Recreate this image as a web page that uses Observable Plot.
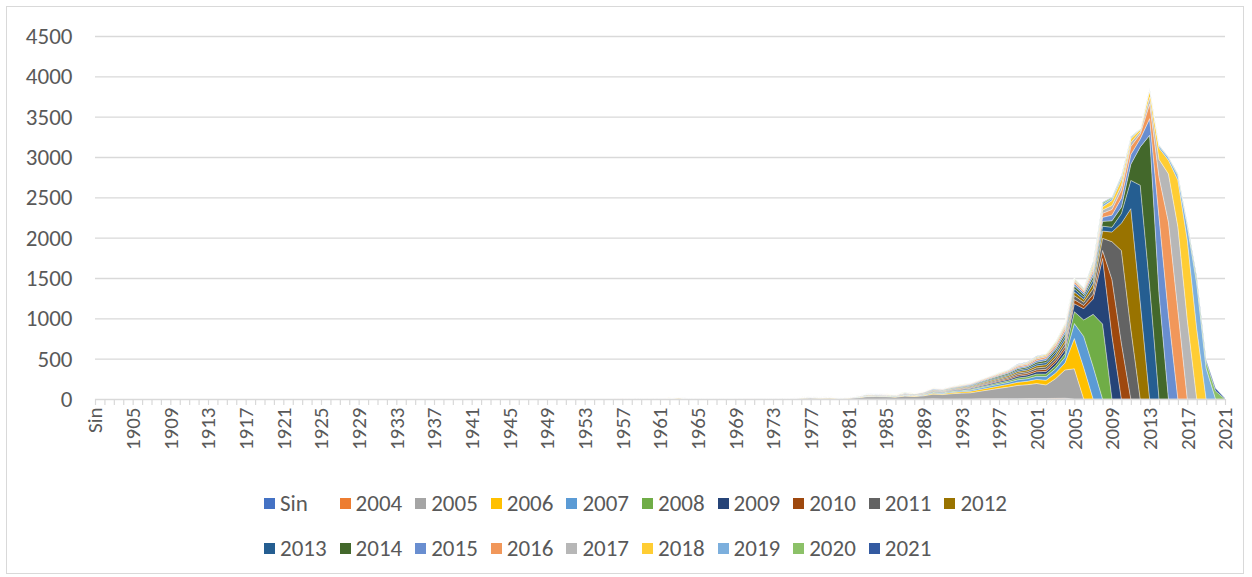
<!DOCTYPE html>
<html>
<head>
<meta charset="utf-8">
<script src="https://cdn.jsdelivr.net/npm/d3@7"></script>
<script src="https://cdn.jsdelivr.net/npm/@observablehq/plot@0.6"></script>
<style>
  html, body { margin: 0; padding: 0; background: #fff; }
  #wrap { position: relative; width: 1252px; height: 577px; overflow: hidden; font-family: Carlito, Lato, "Open Sans", sans-serif; }
  #frame { position: absolute; left: 6px; top: 6px; width: 1238px; height: 568px; border: 1px solid #d9d9d9; box-sizing: border-box; pointer-events: none; }
  #chart { position: absolute; left: 0; top: 0; }
  .leg { position: absolute; display: flex; align-items: center; font-size: 23px; color: #595959; white-space: nowrap; line-height: 1; }
  .leg span.sw { display: inline-block; width: 11px; height: 11px; margin-right: 5px; }
</style>
</head>
<body>
<div id="wrap">
  <div id="chart"></div>
  <div id="legend"></div>
  <div id="frame"></div>
</div>
<script>
// ---------- data ----------
const firstDataYear = 1956; // all categories before this year are 0
const categories = ["Sin", ...d3.range(1902, 2022).map(String)];
const tickLabels = ["Sin","1905","1909","1913","1917","1921","1925","1929","1933","1937","1941","1945","1949","1953","1957","1961","1965","1969","1973","1977","1981","1985","1989","1993","1997","2001","2005","2009","2013","2017","2021"];
const yTicks = [0, 500, 1000, 1500, 2000, 2500, 3000, 3500, 4000, 4500];

const seriesNames = ["Sin","2004","2005","2006","2007","2008","2009","2010","2011","2012","2013","2014","2015","2016","2017","2018","2019","2020","2021"];
const seriesColors = ["#4472C4","#ED7D31","#A5A5A5","#FFC000","#5B9BD5","#70AD47","#264478","#9E480E","#636363","#997300","#255E91","#43682B","#698ED0","#F1975A","#B7B7B7","#FFCD33","#7CAFDD","#8CC168","#335AA1"];

// values per year 1956..2021
const sSin = [0,0,0,0,0,0,0,0,0,0, 0,0,0,0,0,0,0,0,0,0, 0,0,0,0,0,0,0,0,0,0, 0,0,0,0,1,0,0,0,0,1, 1,2,2,2,2,3,3,4,5,0, 0,0,0,0,0,0,0,0,0,0, 0,0,0,0,0,0];
const s2004 = [0,0,0,0,0,0,2,3,0,0, 0,0,0,0,0,0,0,0,0,0, 0,0,0,0,0,0,0,0,0,1, 0,0,0,0,1,0,0,1,0,1, 2,2,2,2,3,3,3,4,5,0, 0,0,0,0,0,0,0,0,0,0, 0,0,0,0,0,0];
const s2005 = [0,1,0,1,1,2,4,7,3,2, 3,2,2,3,3,3,3,4,4,5, 9,11,9,10,7,9,17,28,29,27, 23,36,31,40,58,55,66,72,78,95, 111,128,145,165,173,186,169,244,350,375, 0,0,0,0,0,0,0,0,0,0, 0,0,0,0,0,0];
const s2006 = [0,1,0,0,1,1,3,4,1,1, 1,0,1,1,1,1,1,1,2,2, 3,4,3,4,3,3,3,5,6,6, 5,7,6,8,12,11,14,16,19,22, 26,29,33,39,42,51,58,69,86,376, 390,0,0,0,0,0,0,0,0,0, 0,0,0,0,0,0];
const s2007 = [0,0,0,1,0,1,1,2,1,0, 1,0,1,0,1,0,1,1,1,1, 2,3,2,2,2,2,3,4,4,4, 4,6,5,6,9,9,11,12,14,17, 20,23,25,31,32,39,45,53,67,186, 385,400,0,0,0,0,0,0,0,0, 0,0,0,0,0,0];
const s2008 = [0,0,0,0,0,0,1,1,1,0, 0,0,0,1,0,1,0,1,0,1, 2,2,2,2,1,2,2,3,3,3, 3,4,3,4,7,6,8,9,10,12, 14,16,18,22,23,28,32,38,48,145, 205,650,930,0,0,0,0,0,0,0, 0,0,0,0,0,0];
const s2009 = [0,0,0,0,1,0,0,1,0,1, 0,1,0,0,1,0,1,0,1,1, 1,2,1,2,1,1,2,3,3,3, 3,4,3,5,7,6,8,9,11,12, 14,16,18,22,24,28,32,38,48,100, 140,190,812,780,0,0,0,0,0,0, 0,0,0,0,0,0];
const s2010 = [0,0,0,0,0,0,0,1,0,0, 1,0,0,0,0,1,0,0,1,0, 1,1,1,1,1,1,2,2,3,2, 2,3,3,4,5,5,6,7,8,10, 11,13,15,18,19,23,26,30,38,50, 40,60,100,700,690,0,0,0,0,0, 0,0,0,0,0,0];
const s2011 = [0,0,0,0,1,0,1,0,1,0, 0,0,1,0,0,0,1,0,0,1, 1,1,1,1,1,1,2,3,3,3, 2,4,3,4,6,6,7,8,9,11, 13,15,16,20,21,25,29,34,43,50, 40,70,150,470,1150,870,0,0,0,0, 0,0,0,0,0,0];
const s2012 = [0,0,0,0,0,1,0,1,0,1, 0,0,0,1,0,0,0,1,0,1, 1,1,1,1,0,1,2,3,3,3, 3,4,3,4,6,6,7,8,10,11, 13,14,16,20,21,26,29,34,43,45, 35,60,90,120,340,1490,1200,0,0,0, 0,0,0,0,0,0];
const s2013 = [0,0,0,0,0,0,0,0,1,0, 0,0,0,0,1,0,0,0,1,0, 1,1,1,1,1,1,1,3,2,3, 2,3,3,3,5,5,6,7,8,10, 12,13,14,17,19,23,26,31,38,40, 30,50,60,60,120,350,1450,1400,0,0, 0,0,0,0,0,0];
const s2014 = [0,0,0,0,0,0,0,1,0,0, 0,1,0,0,0,1,0,1,0,0, 1,1,1,1,1,1,2,2,3,2, 2,3,3,4,5,5,6,7,8,10, 11,13,15,18,18,22,26,30,39,35, 28,45,60,80,80,200,475,1870,1300,0, 0,0,0,0,0,0];
const s2015 = [0,0,0,0,0,0,1,0,0,0, 0,0,0,1,0,0,1,0,1,0, 1,1,1,1,0,1,1,2,2,2, 2,3,2,3,5,4,5,6,7,9, 10,11,13,15,16,20,23,27,34,30, 25,40,50,70,110,120,100,206,950,1040, 0,0,0,0,0,0];
const s2016 = [0,0,0,0,0,0,0,1,0,0, 1,0,0,0,1,0,0,1,0,0, 1,1,0,1,1,0,1,2,2,2, 2,3,2,3,5,4,5,6,7,8, 10,11,13,15,16,20,22,27,33,25, 20,35,50,70,100,100,60,184,500,1150, 1100,0,0,0,0,0];
const s2017 = [0,0,0,0,0,0,0,0,0,0, 0,0,1,0,0,0,0,0,0,1, 0,1,1,0,0,1,1,2,2,2, 1,2,2,2,3,3,4,4,5,6, 7,8,9,11,12,14,16,19,24,18, 15,30,40,50,60,50,30,80,220,600, 1035,980,0,0,0,0];
const s2018 = [0,0,0,0,0,0,1,0,0,0, 0,0,0,0,0,1,0,0,0,0, 0,1,0,1,0,0,1,1,1,1, 1,2,1,2,3,3,3,4,4,5, 6,6,7,9,9,11,13,15,19,12, 12,30,40,60,70,45,25,80,140,170, 578,990,870,0,0,0];
const s2019 = [0,0,0,0,0,0,0,0,0,0, 0,0,0,0,0,0,0,0,0,0, 0,0,0,0,0,0,0,1,1,1, 1,1,1,1,1,1,2,2,2,2, 3,3,4,4,5,6,6,8,10,8, 8,20,30,25,30,15,6,20,25,30, 55,170,560,380,0,0];
const s2020 = [0,0,0,0,0,0,0,0,0,0, 0,0,0,0,0,0,0,0,0,0, 0,0,0,0,0,0,0,0,1,0, 0,1,0,1,1,1,1,1,1,1, 1,2,2,2,2,3,3,4,5,4, 5,14,20,15,15,7,3,6,8,8, 17,30,65,80,100,0];
const s2021 = [0,0,0,0,0,0,0,0,0,0, 0,0,0,0,0,0,0,0,0,0, 0,0,0,0,0,0,0,0,0,0, 0,0,0,0,0,0,0,0,0,0, 0,0,0,1,1,1,1,2,2,1, 2,6,8,5,5,3,1,2,3,2, 5,10,20,23,32,8];

const seriesValues = [sSin,s2004,s2005,s2006,s2007,s2008,s2009,s2010,s2011,s2012,s2013,s2014,s2015,s2016,s2017,s2018,s2019,s2020,s2021];

// ---------- long table for Plot ----------
const rows = [];
seriesNames.forEach((name, si) => {
  const arr = seriesValues[si];
  categories.forEach(cat => {
    let v = 0;
    if (cat !== "Sin") {
      const yr = +cat;
      if (yr >= firstDataYear) v = arr[yr - firstDataYear] ?? 0;
    }
    rows.push({cat, series: name, value: v});
  });
});

const font = "Carlito, Lato, 'Open Sans', sans-serif";

const chart = Plot.plot({
  width: 1252,
  height: 470,
  marginLeft: 95,
  marginRight: 27,
  marginTop: 36,
  marginBottom: 71,
  style: {fontFamily: font, background: "transparent", overflow: "visible"},
  x: {type: "point", domain: categories, padding: 0, axis: null, label: null},
  y: {domain: [0, 4500], axis: null, label: null},
  color: {domain: seriesNames, range: seriesColors},
  marks: [
    Plot.gridY(yTicks.filter(d => d > 0), {stroke: "#d9d9d9", strokeOpacity: 1, strokeWidth: 1.3}),
    Plot.areaY(rows, {x: "cat", y: "value", z: "series", fill: "series", stroke: "#ffffff", strokeWidth: 0.6, strokeOpacity: 0.6}),
    Plot.ruleY([0], {stroke: "#d9d9d9", strokeWidth: 1.3}),
    Plot.axisX({ticks: categories, tickSize: 6, tickFormat: () => "", stroke: "#d9d9d9", strokeWidth: 1.2, label: null}),
    Plot.axisX({ticks: tickLabels, tickSize: 0, tickPadding: 8, tickRotate: -90, fontSize: 21, fill: "#595959", tickFormat: d => d, label: null}),
    Plot.axisY({ticks: yTicks, tickSize: 0, tickPadding: 23, fontSize: 23, fill: "#595959", tickFormat: d => String(d), label: null})
  ]
});
document.getElementById("chart").appendChild(chart);

// ---------- legend ----------
const legend = document.getElementById("legend");
const legendRows = [seriesNames.slice(0, 10), seriesNames.slice(10)];
const rowY = [503, 548];
legendRows.forEach((names, r) => {
  names.forEach((name, i) => {
    const item = document.createElement("div");
    item.className = "leg";
    item.style.left = (264 + i * 75.6) + "px";
    item.style.top = (rowY[r] - 12) + "px";
    item.style.height = "24px";
    const sw = document.createElement("span");
    sw.className = "sw";
    sw.style.background = seriesColors[seriesNames.indexOf(name)];
    item.appendChild(sw);
    item.appendChild(document.createTextNode(name));
    legend.appendChild(item);
  });
});
</script>
</body>
</html>
